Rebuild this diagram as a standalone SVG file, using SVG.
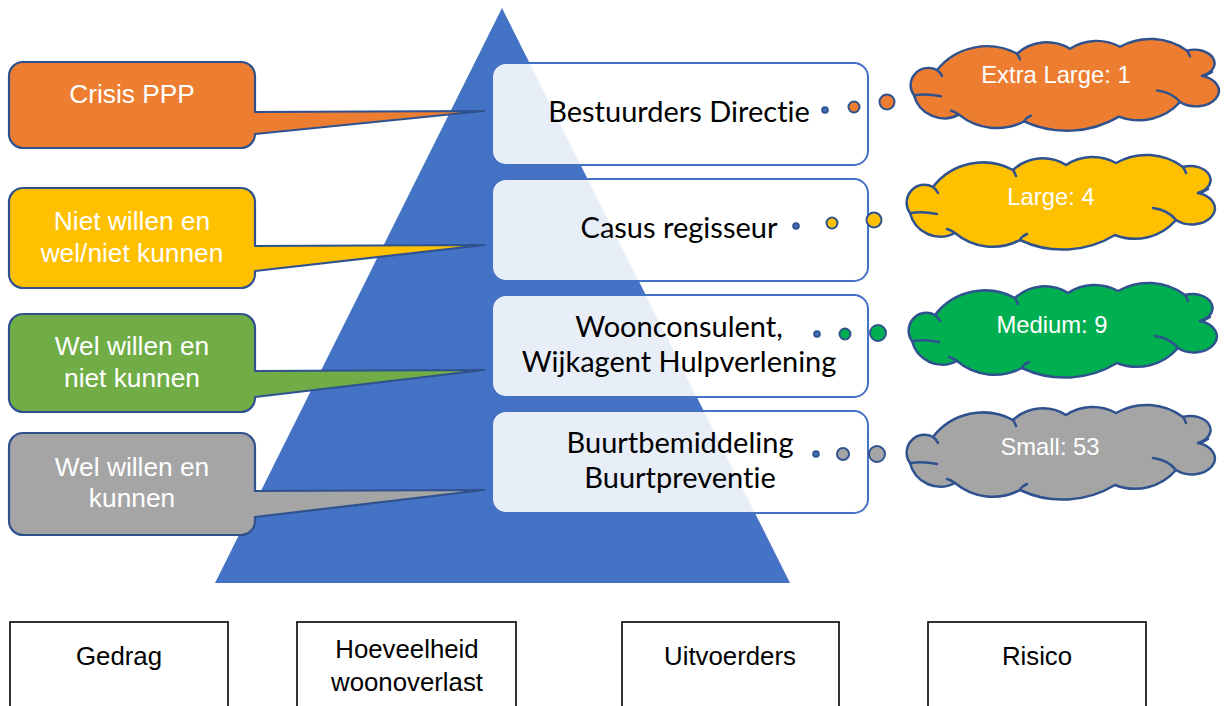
<svg xmlns="http://www.w3.org/2000/svg" width="1229" height="706" viewBox="0 0 1229 706">
<style>
.co{stroke:#2f528f;stroke-width:2.2;stroke-linejoin:round}
.ct{font-family:"Liberation Sans",Arial,sans-serif;font-size:26.3px;fill:#fff;text-anchor:middle}
.bx{fill:#fff;fill-opacity:0.88;stroke:#4472c4;stroke-width:2}
.bt{font-family:Lato,"Open Sans",sans-serif;font-size:29px;fill:#000;text-anchor:middle;font-variant-ligatures:none;font-feature-settings:"liga" 0,"clig" 0}
.cl{stroke:#2f528f;stroke-width:2.5;stroke-linejoin:round}
.cd{fill:none;stroke:#2f528f;stroke-width:2.5;stroke-linecap:round}
.clt{font-family:"Liberation Sans",Arial,sans-serif;font-size:23.8px;fill:#fff;text-anchor:middle}
.dt{stroke:#2f528f;stroke-width:2}
.lb{fill:#fff;stroke:#000;stroke-width:1.6}
.lt{font-family:"Liberation Sans",Arial,sans-serif;font-size:25.8px;fill:#000;text-anchor:middle}
</style>
<defs>
<path id="cloud" d="M30,32 A63.3,63.3 0 0 1 110,15 A43.8,43.8 0 0 1 163,10 A48.1,48.1 0 0 1 213,8 A61.4,61.4 0 0 1 280,12 A20,14 0 0 1 295,38 A23,16 0 1 1 273,65 A54.3,54.3 0 0 1 212,80 A100.4,100.4 0 0 1 117,85 A58.5,58.5 0 0 1 52,78 A31.2,31.2 0 0 1 7,58 A17.8,17.8 0 0 1 30,32 Z"/>
<g id="cloudDeco">
<path d="M8,58 Q20,56 34,59"/>
<path d="M52,78 Q48,75 44,74"/>
<path d="M117,85 Q119,81 124,79"/>
<path d="M250,53 Q265,55 273,65"/>
<path d="M295,38 Q301,37 305,34"/>
<path d="M280,12 Q282,15 283,18"/>
<path d="M110,15 Q112,18 113,21"/>
<path d="M30,32 Q33,34 35,38"/>
</g>
</defs>

<g id="pyramid">
<polygon points="502,8 215,583 790,583" fill="#4472c4"/>
</g>

<g id="callout-crisis">
<path class="co" fill="#ed7d31" d="M23,62 H241 A14,14 0 0 1 255,76 V112 L484,111 L255,134 A14,14 0 0 1 241,148 H23 A14,14 0 0 1 9,134 V76 A14,14 0 0 1 23,62 Z"/>
<text class="ct" x="132" y="103">Crisis PPP</text>
</g>
<g id="callout-niet-willen">
<path class="co" fill="#ffc000" d="M23,188 H241 A14,14 0 0 1 255,202 V246 L484,245 L255,271 V274 A14,14 0 0 1 241,288 H23 A14,14 0 0 1 9,274 V202 A14,14 0 0 1 23,188 Z"/>
<text class="ct" x="132" y="230">Niet willen en</text>
<text class="ct" x="132" y="262">wel/niet kunnen</text>
</g>
<g id="callout-wel-willen-niet">
<path class="co" fill="#70ad47" d="M23,314 H241 A14,14 0 0 1 255,328 V371 L484,370 L255,397 V398 A14,14 0 0 1 241,412 H23 A14,14 0 0 1 9,398 V328 A14,14 0 0 1 23,314 Z"/>
<text class="ct" x="132" y="355">Wel willen en</text>
<text class="ct" x="132" y="387">niet kunnen</text>
</g>
<g id="callout-wel-willen-kunnen">
<path class="co" fill="#a5a5a5" d="M23,433 H241 A14,14 0 0 1 255,447 V491 L484,490 L255,517 V521 A14,14 0 0 1 241,535 H23 A14,14 0 0 1 9,521 V447 A14,14 0 0 1 23,433 Z"/>
<text class="ct" x="132" y="476">Wel willen en</text>
<text class="ct" x="132" y="507">kunnen</text>
</g>

<g id="box-bestuurders">
<rect class="bx" x="492" y="63" width="376" height="102" rx="14"/>
<text class="bt" x="679" y="122">Bestuurders Directie</text>
</g>
<g id="box-casus">
<rect class="bx" x="492" y="179" width="376" height="102" rx="14"/>
<text class="bt" x="679" y="238">Casus regisseur</text>
</g>
<g id="box-woonconsulent">
<rect class="bx" x="492" y="295" width="376" height="102" rx="14"/>
<text class="bt" x="679" y="337">Woonconsulent,</text>
<text class="bt" x="679" y="372">Wijkagent Hulpverlening</text>
</g>
<g id="box-buurt">
<rect class="bx" x="492" y="411" width="376" height="102" rx="14"/>
<text class="bt" x="680" y="453">Buurtbemiddeling</text>
<text class="bt" x="680" y="488">Buurtpreventie</text>
</g>

<g id="connectors">
<circle class="dt" cx="825" cy="110" r="2.8" fill="#4472c4"/>
<circle class="dt" cx="854" cy="107" r="5.5" fill="#ed7d31"/>
<circle class="dt" cx="887" cy="102" r="7.5" fill="#ed7d31"/>
<circle class="dt" cx="796" cy="226" r="2.8" fill="#4472c4"/>
<circle class="dt" cx="832" cy="223" r="5.5" fill="#ffc000"/>
<circle class="dt" cx="874" cy="220" r="7.5" fill="#ffc000"/>
<circle class="dt" cx="817" cy="334" r="2.8" fill="#4472c4"/>
<circle class="dt" cx="845" cy="334" r="5.5" fill="#00b050"/>
<circle class="dt" cx="878" cy="333" r="8" fill="#00b050"/>
<circle class="dt" cx="816" cy="454" r="2.8" fill="#4472c4"/>
<circle class="dt" cx="843" cy="454" r="6" fill="#a5a5a5"/>
<circle class="dt" cx="877" cy="454" r="8" fill="#a5a5a5"/>
</g>

<g id="cloud-xl">
<use href="#cloud" class="cl" fill="#ed7d31" transform="translate(907,39) scale(1,0.97)"/>
<use href="#cloudDeco" class="cd" transform="translate(907,39) scale(1,0.97)"/>
<text class="clt" x="1056" y="83">Extra Large: 1</text>
</g>
<g id="cloud-large">
<use href="#cloud" class="cl" fill="#ffc000" transform="translate(903,155)"/>
<use href="#cloudDeco" class="cd" transform="translate(903,155)"/>
<text class="clt" x="1051" y="205">Large: 4</text>
</g>
<g id="cloud-medium">
<use href="#cloud" class="cl" fill="#00b050" transform="translate(905,283)"/>
<use href="#cloudDeco" class="cd" transform="translate(905,283)"/>
<text class="clt" x="1052" y="333">Medium: 9</text>
</g>
<g id="cloud-small">
<use href="#cloud" class="cl" fill="#a5a5a5" transform="translate(903,405)"/>
<use href="#cloudDeco" class="cd" transform="translate(903,405)"/>
<text class="clt" x="1050" y="455">Small: 53</text>
</g>

<g id="label-gedrag">
<rect class="lb" x="10" y="622" width="218" height="100"/>
<text class="lt" x="119" y="665">Gedrag</text>
</g>
<g id="label-hoeveelheid">
<rect class="lb" x="297" y="622" width="219" height="100"/>
<text class="lt" x="407" y="658">Hoeveelheid</text>
<text class="lt" x="407" y="691">woonoverlast</text>
</g>
<g id="label-uitvoerders">
<rect class="lb" x="622" y="622" width="217" height="100"/>
<text class="lt" x="730" y="665">Uitvoerders</text>
</g>
<g id="label-risico">
<rect class="lb" x="928" y="622" width="218" height="100"/>
<text class="lt" x="1037" y="665">Risico</text>
</g>
</svg>
